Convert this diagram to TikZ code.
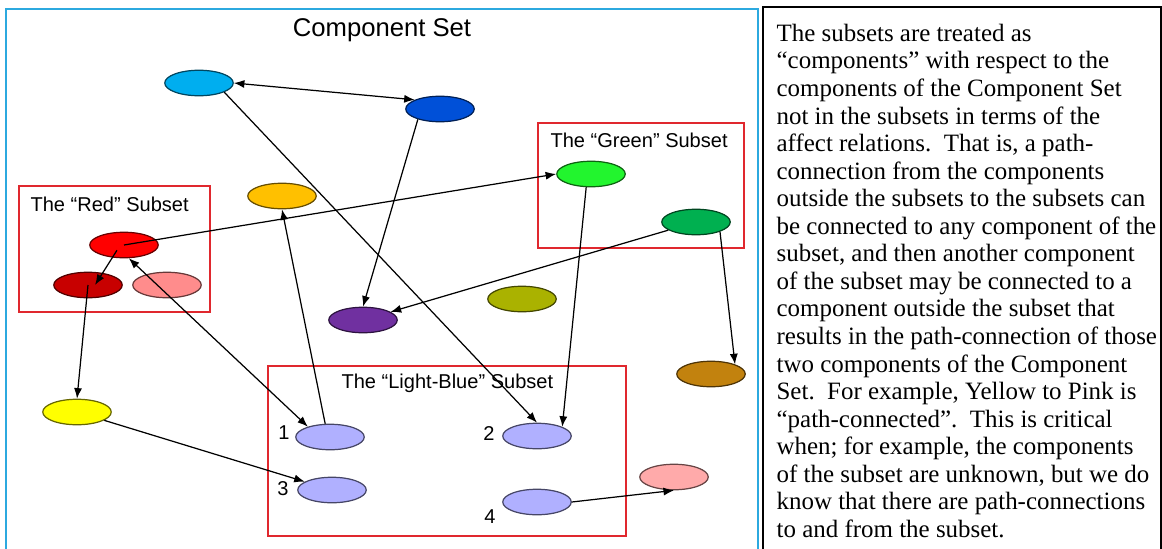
\documentclass[tikz,border=0pt]{standalone}
\usepackage{fontspec}
\setmainfont{Liberation Serif}
\setsansfont{Liberation Sans}
\usetikzlibrary{shapes.geometric,arrows.meta}
\definecolor{setblue}{HTML}{2CA9DF}
\definecolor{subsetred}{HTML}{E0282E}
\definecolor{cskyblue}{HTML}{00AEEF}
\definecolor{cblue}{HTML}{0050D8}
\definecolor{corange}{HTML}{FFC000}
\definecolor{clime}{HTML}{22F52E}
\definecolor{cgreen}{HTML}{00B050}
\definecolor{cred}{HTML}{FF0000}
\definecolor{cdarkred}{HTML}{C80000}
\definecolor{csalmon}{HTML}{FF8C8C}
\definecolor{colive}{HTML}{AAB200}
\definecolor{cpurple}{HTML}{7030A0}
\definecolor{cbrown}{HTML}{C2820E}
\definecolor{cyellow}{HTML}{FFFF00}
\definecolor{clavender}{HTML}{B0B0FF}
\definecolor{cpink}{HTML}{FFAAAA}
\begin{document}
\begin{tikzpicture}[x=0.02cm,y=-0.02cm,line width=0.7pt,
    comp/.style={ellipse,draw=#1!40!black,fill=#1,minimum width=1.37cm,
      minimum height=0.51cm,inner sep=0pt},
    subset/.style={draw=subsetred,line width=1.1pt},
    caption/.style={font=\sffamily\fontsize{11.4pt}{13pt}\selectfont,inner sep=0pt},
    >={Latex[length=6pt,width=4.6pt]}]
  \useasboundingbox (0,0) rectangle (1162,548);
  \draw[setblue,line width=1.2pt] (6,9) rectangle (758,600);
  \draw[line width=1.2pt] (763,7) rectangle (1161,600);
  \draw[subset] (19,186) rectangle (210,312);
  \draw[subset] (538,123) rectangle (744,248);
  \draw[subset] (268,366) rectangle (626,536);
  \draw
    (382,30) node[font=\sffamily\fontsize{14.6pt}{17pt}\selectfont] (title){Component Set}
    (30,204) node[caption,anchor=west] (redlabel){The “Red” Subset}
    (550,140) node[caption,anchor=west] (greenlabel){The “Green” Subset}
    (341,383) node[caption,anchor=west] (bluelabel){The “Light-Blue” Subset}
    (284,433) node[caption] (n1){1}
    (489,433) node[caption] (n2){2}
    (283,489) node[caption] (n3){3}
    (490,517) node[caption] (n4){4};
  \draw
    (199,83) node[comp=cskyblue] (sky){}
    (440,109) node[comp=cblue] (blue){}
    (282,196) node[comp=corange] (orange){}
    (591,174) node[comp=clime] (lime){}
    (696,222) node[comp=cgreen] (green){}
    (124,245) node[comp=cred] (red){}
    (88,285) node[comp=cdarkred] (darkred){}
    (167,285) node[comp=csalmon] (salmon){}
    (522,299) node[comp=colive] (olive){}
    (363,320) node[comp=cpurple] (purple){}
    (711,374) node[comp=cbrown] (brown){}
    (77,412) node[comp=cyellow] (yellow){}
    (330,437) node[comp=clavender] (lb1){}
    (537,436) node[comp=clavender] (lb2){}
    (332,490) node[comp=clavender] (lb3){}
    (537,502) node[comp=clavender] (lb4){}
    (674,477) node[comp=cpink] (pink){};
  \begin{scope}[->]
    \draw[<->] (sky.east) to (blue.160);
    \draw (sky.340) to (lb2.north);
    \draw (blue.205) to (purple.north);
    \draw (red.center) to (lime.west);
    \draw ([xshift=-4pt,yshift=-3pt]red.center) to ([xshift=4pt]darkred.center);
    \draw (darkred.center) to (yellow.north);
    \draw[<->] (red.290) to (lb1.155);
    \draw (lb1.110) to (orange.south);
    \draw (lime.250) to (lb2.20);
    \draw (green) to (purple);
    \draw (green.338) to (brown.22);
    \draw (yellow) to (lb3);
    \draw (lb4.east) to (pink.south);
  \end{scope}
  \node[anchor=north west,inner sep=0pt,align=left,
    font=\fontsize{14.2pt}{15.68pt}\selectfont] (note) at (776,23.5)
    {The subsets are treated as\\
     “components” with respect to the\\
     components of the Component Set\\
     not in the subsets in terms of the\\
     affect relations.\ \ That is, a path-\\
     connection from the components\\
     outside the subsets to the subsets can\\
     be connected to any component of the\\
     subset, and then another component\\
     of the subset may be connected to a\\
     component outside the subset that\\
     results in the path-connection of those\\
     two components of the Component\\
     Set.\ \ For example, Yellow to Pink is\\
     “path-connected”.\ \ This is critical\\
     when; for example, the components\\
     of the subset are unknown, but we do\\
     know that there are path-connections\\
     to and from the subset.};
\end{tikzpicture}
\end{document}
